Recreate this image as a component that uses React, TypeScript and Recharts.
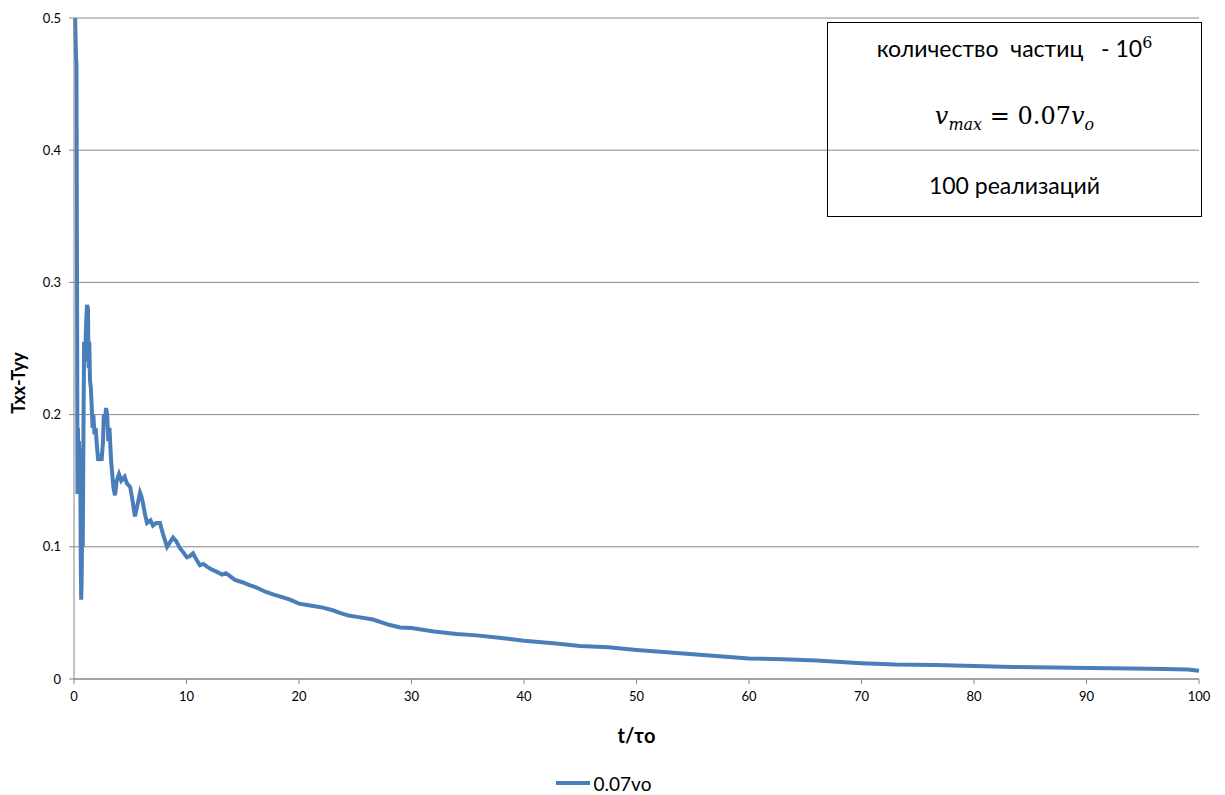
import React from 'react';
import { LineChart, Line, XAxis, YAxis, CartesianGrid, Legend, Label } from 'recharts';

const tValues = [
  0, 0.1, 0.18, 0.22, 0.27, 0.31, 0.35, 0.4, 0.44, 0.5, 0.55, 0.6, 0.64, 0.68, 0.72, 0.78,
  0.85, 0.9, 0.95, 1.02, 1.08, 1.16, 1.24, 1.3, 1.36, 1.42, 1.5, 1.58, 1.65, 1.72, 1.82,
  1.92, 2.05, 2.15, 2.3, 2.45, 2.58, 2.65, 2.75, 2.85, 2.95, 3.05, 3.15, 3.3, 3.4, 3.5,
  3.64, 3.8, 4.0, 4.2, 4.5, 4.7, 5.0, 5.2, 5.42, 5.6, 5.87, 6.0, 6.13, 6.3, 6.49, 6.8,
  7.02, 7.3, 7.64, 7.9, 8.27, 8.5, 8.8, 9.1, 9.42, 9.7, 10.04, 10.3, 10.58, 10.9, 11.2,
  11.5, 11.82, 12.2, 12.71, 13.16, 13.5, 13.69, 14.31, 15.02, 15.6, 16.27, 17.0, 17.69,
  18.5, 19.2, 20.0, 20.71, 21.4, 22.13, 23.0, 23.64, 24.4, 25.16, 26.58, 28.0, 29.0, 30.0,
  32.0, 34.0, 35.8, 38.0, 40.0, 42.6, 45.0, 47.5, 50.0, 53.0, 56.2, 60.0, 63.0, 66.0, 70.0,
  73.0, 76.6, 80.0, 83.4, 87.0, 90.2, 94.0, 97.0, 99.0, 100.0,
];

const txxTyy = [
  0.5, 0.5, 0.47, 0.465, 0.3, 0.14, 0.19, 0.15, 0.18, 0.14, 0.175, 0.09, 0.06, 0.075, 0.11, 0.1,
  0.2, 0.255, 0.24, 0.25, 0.27, 0.283, 0.28, 0.235, 0.255, 0.226, 0.22, 0.205, 0.19, 0.2, 0.185,
  0.19, 0.175, 0.165, 0.17, 0.165, 0.18, 0.2, 0.195, 0.205, 0.2, 0.18, 0.19, 0.165, 0.155, 0.145,
  0.139, 0.15, 0.155, 0.15, 0.153, 0.148, 0.145, 0.135, 0.123, 0.13, 0.141, 0.138, 0.133, 0.125, 0.118, 0.12,
  0.116, 0.118, 0.118, 0.11, 0.1, 0.103, 0.107, 0.104, 0.099, 0.096, 0.092, 0.093, 0.095, 0.09, 0.086,
  0.087, 0.085, 0.083, 0.081, 0.079, 0.08, 0.079, 0.075, 0.073, 0.071, 0.069, 0.066, 0.064,
  0.062, 0.06, 0.057, 0.056, 0.055, 0.054, 0.052, 0.05, 0.048, 0.047, 0.045, 0.041, 0.039, 0.0385,
  0.036, 0.034, 0.033, 0.031, 0.029, 0.027, 0.025, 0.024, 0.022, 0.02, 0.018, 0.0155, 0.015, 0.014, 0.012,
  0.011, 0.0105, 0.0098, 0.0091, 0.0087, 0.0083, 0.008, 0.0076, 0.0072, 0.0062,
];

const xTicks = [0, 10, 20, 30, 40, 50, 60, 70, 80, 90, 100];
const yTicks = [0, 0.1, 0.2, 0.3, 0.4, 0.5];
const seriesName = '0.07vo';

const data = tValues.map((t, i) => ({ t, v: txxTyy[i] }));

const BLUE = '#4A7EBB';
const GRAY = '#868686';
const FONT = 'Lato, "Open Sans", sans-serif';

const LegendContent = () => (
  <div style={{ display: 'flex', justifyContent: 'center', alignItems: 'center', fontFamily: FONT, fontSize: 19, color: '#000', height: 24 }}>
    <svg width={36} height={10} style={{ marginRight: 2 }}>
      <line x1={0} y1={5} x2={34} y2={5} stroke={BLUE} strokeWidth={4} />
    </svg>
    <span>{seriesName}</span>
  </div>
);

export default function App() {
  return (
    <div style={{ position: 'relative', width: 1217, height: 787 }}>
      <LineChart
        width={1217}
        height={787}
        data={data}
        margin={{ top: 10, right: 26, left: 0, bottom: 0 }}
      >
        <CartesianGrid horizontal vertical={false} stroke={GRAY} strokeWidth={1} />
        <XAxis
          dataKey="t"
          type="number"
          domain={[0, 100]}
          ticks={xTicks}
          height={92}
          stroke={GRAY}
          tickSize={5}
          tickMargin={8}
          tick={{ fill: '#000', fontSize: 13, fontFamily: FONT }}
        >
          <Label
            value="t/τo"
            position="insideBottom"
            offset={28}
            style={{ fontSize: 20, fontWeight: 'bold', fill: '#000', fontFamily: FONT }}
          />
        </XAxis>
        <YAxis
          type="number"
          domain={[0, 0.5]}
          ticks={yTicks}
          allowDataOverflow
          width={66}
          stroke={GRAY}
          tickSize={5}
          tickMargin={8}
          tick={{ fill: '#000', fontSize: 13, fontFamily: FONT }}
        >
          <Label
            content={() => (
              <text
                x={17}
                y={375}
                transform="rotate(-90 17 375)"
                textAnchor="middle"
                style={{ fontSize: 18, fontWeight: 'bold', fill: '#000', fontFamily: FONT }}
              >
                Txx-Tyy
              </text>
            )}
          />
        </YAxis>
        <Legend verticalAlign="bottom" height={24} content={LegendContent} />
        <Line
          type="linear"
          dataKey="v"
          name={seriesName}
          stroke={BLUE}
          strokeWidth={4}
          dot={false}
          isAnimationActive={false}
        />
      </LineChart>
      <div
        style={{
          position: 'absolute',
          left: 819,
          top: 14,
          width: 373,
          height: 193,
          border: '1px solid #000',
          fontFamily: FONT,
          color: '#000',
          textAlign: 'center',
        }}
      >
        <div style={{ position: 'absolute', top: 11, width: '100%', fontSize: 23, whiteSpace: 'pre' }}>
          {'количество  частиц   - 10'}
          <span style={{ fontSize: 16, position: 'relative', top: -9, fontFamily: '"DejaVu Serif", serif' }}>6</span>
        </div>
        <div style={{ position: 'absolute', top: 79, width: '100%', fontSize: 24, fontFamily: '"DejaVu Serif", serif' }}>
          <i>v</i><sub style={{ fontSize: 16, fontStyle: 'italic' }}>max</sub> = 0.07<i>v</i><sub style={{ fontSize: 16, fontStyle: 'italic' }}>o</sub>
        </div>
        <div style={{ position: 'absolute', top: 148, width: '100%', fontSize: 23 }}>
          100 реализаций
        </div>
      </div>
    </div>
  );
}
